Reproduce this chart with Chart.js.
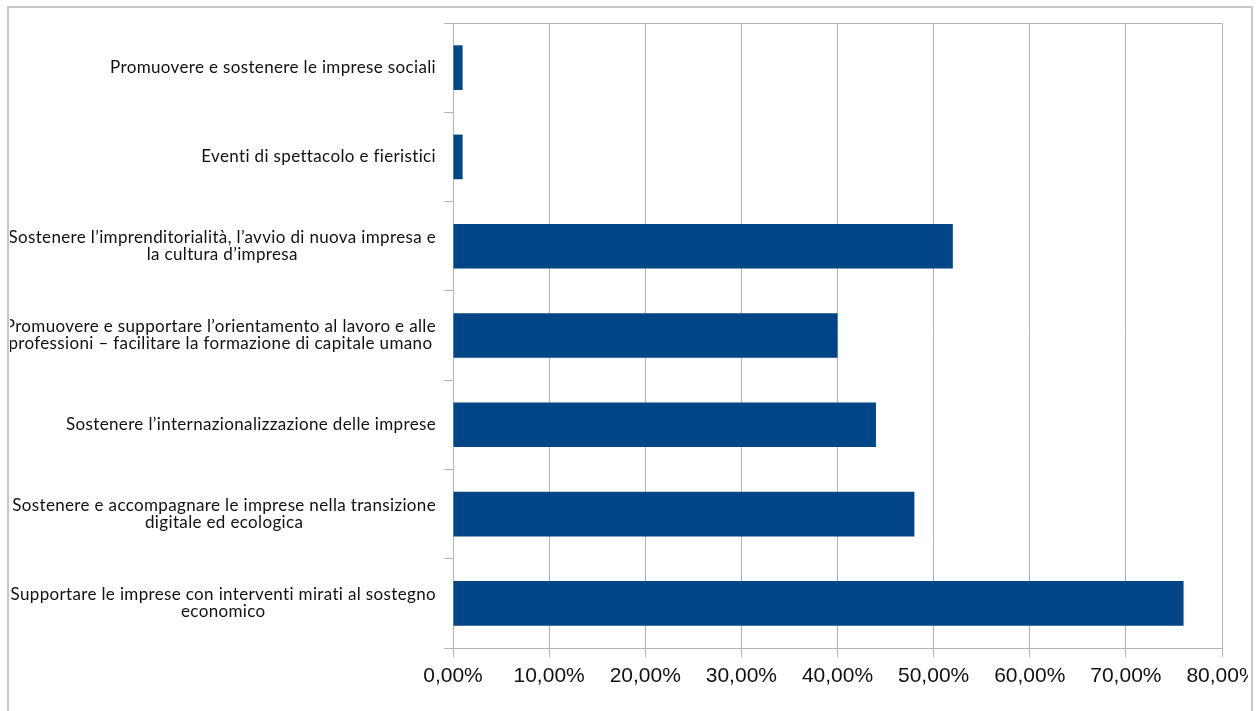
<!DOCTYPE html>
<html>
<head>
<meta charset="utf-8">
<title>Obiettivi</title>
<script src="https://cdn.jsdelivr.net/npm/chart.js"></script>
<style>
  body { margin:0; background:#fff; width:1258px; height:711px; overflow:hidden; position:relative; }
  #frame { position:absolute; left:7px; top:6px; width:1242px; height:720px; border:2px solid #c6c6c6; }
  #wrap { position:absolute; left:10px; top:9px; width:1238px; height:702px; }
</style>
</head>
<body>
<div id="frame"></div>
<div id="wrap"><canvas id="chart"></canvas></div>
<script>
var categories = [
  ["Promuovere e sostenere le imprese sociali"],
  ["Eventi di spettacolo e fieristici"],
  ["Sostenere l\u2019imprenditorialit\u00e0, l\u2019avvio di nuova impresa e", "la cultura d\u2019impresa"],
  ["Promuovere e supportare l\u2019orientamento al lavoro e alle", "professioni \u2013 facilitare la formazione di capitale umano"],
  ["Sostenere l\u2019internazionalizzazione delle imprese"],
  ["Sostenere e accompagnare le imprese nella transizione", "digitale ed ecologica"],
  ["Supportare le imprese con interventi mirati al sostegno", "economico"]
];
var values = [1, 1, 52, 40, 44, 48, 76];
var xMin = 0, xMax = 80, xStep = 10;

var gridGray = '#b3b3b3';

var labelPlugin = {
  id: 'catLabels',
  afterDraw: function(chart) {
    var ctx = chart.ctx, yScale = chart.scales.y;
    var right = chart.chartArea.left - 17;
    ctx.save();
    ctx.font = '17px Lato';
    ctx.letterSpacing = '0.35px';
    ctx.fillStyle = '#111';
    ctx.textAlign = 'center';
    ctx.textBaseline = 'middle';
    categories.forEach(function(lines, i) {
      var w = Math.max.apply(null, lines.map(function(l) { return ctx.measureText(l).width; }));
      var cy = yScale.getPixelForTick(i);
      var cx = right - w / 2;
      lines.forEach(function(l, j) {
        ctx.fillText(l, cx, cy + (j - (lines.length - 1) / 2) * 17);
      });
    });
    ctx.restore();
  }
};

new Chart(document.getElementById('chart'), {
  type: 'bar',
  data: {
    labels: categories,
    datasets: [{ data: values, backgroundColor: '#004586', borderWidth: 0, barPercentage: 0.5, categoryPercentage: 1 }]
  },
  options: {
    indexAxis: 'y',
    responsive: true,
    maintainAspectRatio: false,
    animation: false,
    layout: { padding: { top: 14, right: 26, left: 0, bottom: 0 } },
    plugins: { legend: { display: false }, tooltip: { enabled: false } },
    scales: {
      x: {
        min: xMin, max: xMax,
        ticks: {
          stepSize: xStep, padding: 7, color: '#111',
          font: { family: "'Liberation Sans', Arial", size: 21 },
          callback: function(v) { return v.toFixed(2).replace('.', ',') + '%'; }
        },
        grid: { color: gridGray, tickLength: 9 },
        border: { color: gridGray },
        afterFit: function(s) { s.height = 63; s.paddingLeft = 0; s.paddingRight = 0; }
      },
      y: {
        ticks: { display: false },
        grid: {
          tickLength: 9, tickColor: gridGray,
          color: function(c) { return (c.index === 0 || c.index === undefined) ? gridGray : 'rgba(0,0,0,0)'; }
        },
        border: { color: gridGray },
        afterFit: function(s) { s.width = 443; }
      }
    }
  },
  plugins: [labelPlugin]
});
</script>
</body>
</html>
